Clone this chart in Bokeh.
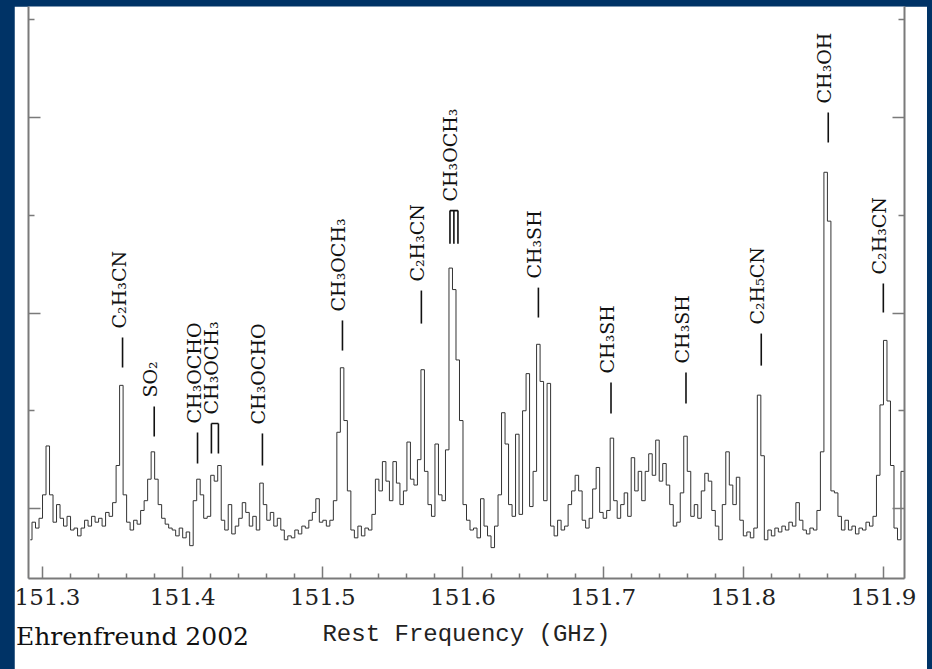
import numpy as np
from bokeh.plotting import figure
from bokeh.models import FixedTicker, LinearAxis, CustomJSTickFormatter, Div
from bokeh.layouts import column
from bokeh.core.properties import value
from bokeh.embed import file_html
from bokeh.resources import INLINE

# ---------------- data ----------------
# spectrometer channel grid (GHz): centre of first channel and channel width
FREQ_START = 151.29125
CHANNEL_WIDTH = 0.0025

# antenna temperature, one value per channel
INTENSITY = [
    -0.16, -0.07, -0.10, -0.05, 0.07, 0.32, 0.07, -0.07, 0.02, -0.05,
    -0.09, -0.04, -0.11, -0.10, -0.14, -0.10, -0.06, -0.09, -0.04, -0.07,
    -0.05, -0.09, -0.02, -0.04, 0.03, 0.22, 0.63, 0.07, -0.07, -0.11,
    -0.06, -0.08, -0.01, 0.04, 0.15, 0.29, 0.15, 0.02, -0.05, -0.08,
    -0.10, -0.11, -0.14, -0.10, -0.15, -0.12, -0.19, 0.04, 0.15, 0.07,
    -0.05, -0.04, 0.17, 0.14, 0.22, -0.06, -0.11, 0.02, -0.13, -0.09,
    -0.05, 0.03, -0.02, -0.09, -0.04, -0.11, 0.13, 0.02, -0.06, -0.02,
    -0.09, -0.05, -0.11, -0.16, -0.14, -0.15, -0.11, -0.13, -0.09, -0.10,
    -0.06, -0.02, 0.05, -0.07, -0.06, -0.09, -0.06, 0.04, 0.39, 0.72,
    0.45, 0.09, -0.11, -0.15, -0.09, -0.14, -0.10, -0.11, -0.03, 0.15,
    0.09, 0.24, 0.14, 0.04, 0.24, 0.13, 0.02, 0.09, 0.34, 0.15,
    0.12, 0.25, 0.71, 0.19, 0.02, -0.04, 0.33, 0.07, 0.04, 0.30,
    1.23, 1.12, 0.76, 0.45, 0.02, -0.06, -0.11, -0.10, -0.15, 0.05,
    -0.09, -0.14, -0.20, -0.09, 0.07, 0.49, 0.33, 0.02, -0.04, 0.38,
    -0.03, 0.50, 0.69, 0.01, 0.19, 0.84, 0.65, 0.04, 0.64, -0.09,
    -0.14, -0.06, -0.11, -0.09, 0.02, 0.09, 0.17, 0.09, -0.06, -0.10,
    -0.05, 0.10, 0.21, -0.02, -0.05, -0.01, 0.36, 0.04, -0.05, 0.02,
    0.08, -0.04, 0.26, 0.09, 0.19, 0.04, 0.19, 0.28, 0.17, 0.35,
    0.14, 0.23, 0.12, 0.02, -0.09, -0.07, 0.08, 0.37, 0.19, -0.04,
    0.02, -0.05, 0.09, 0.18, 0.14, -0.01, -0.09, -0.16, 0.02, 0.29,
    0.12, 0.02, 0.16, -0.06, -0.14, -0.12, -0.15, -0.10, 0.58, 0.27,
    -0.16, -0.11, -0.14, -0.10, -0.12, -0.09, -0.11, -0.07, -0.09, 0.03,
    -0.06, -0.11, -0.13, -0.10, -0.11, -0.01, 0.29, 1.72, 1.47, 0.09,
    0.08, -0.04, -0.11, -0.06, -0.11, -0.09, -0.13, -0.10, -0.11, -0.07,
    -0.09, -0.04, 0.17, 0.53, 0.86, 0.55, 0.22, -0.10, -0.16, 0.19, 0.19,
]

# line identifications
LINE_LABELS = ["C₂H₃CN", "SO₂", "CH₃OCHO", "CH₃OCH₃", "CH₃OCHO", "CH₃OCH₃",
               "C₂H₃CN", "CH₃OCH₃", "CH₃SH", "CH₃SH", "CH₃SH", "C₂H₅CN",
               "CH₃OH", "C₂H₃CN"]
LINE_FREQ = [151.3571, 151.3797, 151.4106, 151.4230, 151.4569, 151.5140,
             151.5703, 151.5935, 151.6538, 151.7056, 151.7591, 151.8128,
             151.8606, 151.8999]
MARKER_TOP = [0.875, 0.522, 0.389, 0.435, 0.384, 0.962, 1.115, 1.524,
              1.130, 0.645, 0.696, 0.895, 2.026, 1.151]
MARKER_BOTTOM = [0.721, 0.368, 0.230, 0.281, 0.220, 0.808, 0.946, 1.355,
                 0.977, 0.486, 0.537, 0.731, 1.872, 1.003]
# identifications made of several blended transitions
BLEND_COMPONENTS = {3: [151.4205, 151.4255], 7: [151.5907, 151.5935, 151.5964]}

X_TICKS = [151.3, 151.4, 151.5, 151.6, 151.7, 151.8, 151.9]
X_MINOR_TICKS = [151.32, 151.34, 151.36, 151.38, 151.42, 151.44, 151.46, 151.48,
                 151.52, 151.54, 151.56, 151.58, 151.62, 151.64, 151.66, 151.68,
                 151.72, 151.74, 151.76, 151.78, 151.82, 151.84, 151.86, 151.88]
Y_TICKS = [0, 1, 2]
Y_MINOR_TICKS = [0.5, 1.5, 2.5]

X_RANGE = (151.290, 151.915)
Y_RANGE = (-0.358, 2.568)

CREDIT = "Ehrenfreund 2002"
X_TITLE = "Rest Frequency (GHz)"

# ---------------- figure ----------------
freq = FREQ_START + CHANNEL_WIDTH * np.arange(len(INTENSITY))

p = figure(width=913, height=663, x_range=X_RANGE, y_range=Y_RANGE,
           output_backend="svg", toolbar_location=None,
           background_fill_color="white", border_fill_color="white",
           outline_line_color=None,
           min_border_left=14, min_border_right=23,
           min_border_top=0, min_border_bottom=91)
p.margin = (6, 5, 0, 14)
p.xgrid.visible = False
p.ygrid.visible = False

p.step(freq, INTENSITY, mode="center", line_color="#333333", line_width=1)

# identification markers
mx0, my0, mx1, my1 = [], [], [], []
for i, f in enumerate(LINE_FREQ):
    comps = BLEND_COMPONENTS.get(i, [f])
    for c in comps:
        mx0.append(c); mx1.append(c)
        my0.append(MARKER_BOTTOM[i]); my1.append(MARKER_TOP[i])
    if len(comps) > 1:
        mx0.append(min(comps)); mx1.append(max(comps))
        my0.append(MARKER_TOP[i]); my1.append(MARKER_TOP[i])
p.segment(mx0, my0, mx1, my1, line_color="#111111", line_width=1.6)

p.text(x=LINE_FREQ, y=MARKER_TOP, text=LINE_LABELS, angle=np.pi / 2,
       text_align="left", text_baseline="middle", y_offset=-9, x_offset=-4,
       text_font=value("DejaVu Serif"), text_font_size="19px",
       text_color="#111111")

# axes
axis_color = "#7a7a7a"
fmt_empty = CustomJSTickFormatter(code="return ''")

xa = p.xaxis[0]
xa.ticker = FixedTicker(ticks=X_TICKS, minor_ticks=X_MINOR_TICKS)
xa.axis_line_color = axis_color
xa.axis_line_width = 2
xa.major_tick_line_color = axis_color
xa.minor_tick_line_color = axis_color
xa.major_tick_line_width = 1.5
xa.minor_tick_line_width = 1.5
xa.major_tick_in = 12
xa.major_tick_out = 0
xa.minor_tick_in = 5
xa.minor_tick_out = 0
xa.major_label_text_font = "DejaVu Serif"
xa.major_label_text_font_size = "23px"
xa.major_label_text_color = "#222222"
xa.major_label_standoff = 10
xa.axis_label = X_TITLE
xa.axis_label_text_font = "Liberation Mono"
xa.axis_label_text_font_size = "24px"
xa.axis_label_text_font_style = "normal"
xa.axis_label_text_color = "#222222"
xa.axis_label_standoff = 13


def style_y(ax):
    ax.ticker = FixedTicker(ticks=Y_TICKS, minor_ticks=Y_MINOR_TICKS)
    ax.formatter = fmt_empty
    ax.axis_line_color = axis_color
    ax.axis_line_width = 2
    ax.major_tick_line_color = axis_color
    ax.minor_tick_line_color = axis_color
    ax.major_tick_line_width = 1.5
    ax.minor_tick_line_width = 1.5
    ax.major_tick_in = 12
    ax.major_tick_out = 0
    ax.minor_tick_in = 6
    ax.minor_tick_out = 0
    ax.major_label_standoff = 0


style_y(p.yaxis[0])
ra = LinearAxis()
style_y(ra)
p.add_layout(ra, "right")

# credit line, sitting in the white strip under the axis, left of the axis title
credit = Div(text=CREDIT, margin=(-47, 0, 0, 16),
             styles={"font-family": "DejaVu Serif", "font-size": "25px",
                     "color": "#111111", "line-height": "30px",
                     "white-space": "nowrap"})

layout = column(p, credit, width=932, height=669,
                styles={"background-color": "#003366"})

with open("out.html", "w") as fh:
    fh.write(file_html(layout, INLINE))
